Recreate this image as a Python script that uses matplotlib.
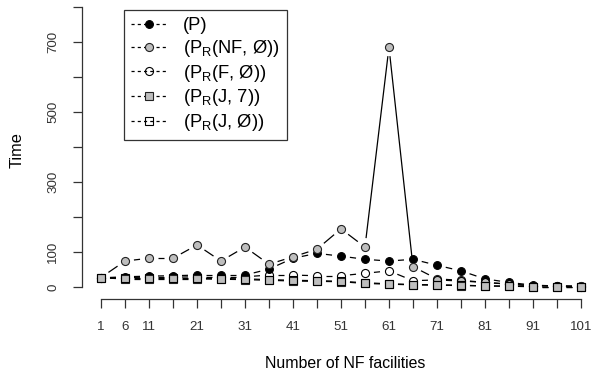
import numpy as np
import matplotlib
matplotlib.use("Agg")
import matplotlib.pyplot as plt
from matplotlib.collections import LineCollection
from matplotlib.lines import Line2D

plt.rcParams['font.family'] = ['Liberation Sans', 'DejaVu Sans']
plt.rcParams['mathtext.fontset'] = 'custom'
plt.rcParams['mathtext.rm'] = 'Liberation Sans'

### data ###
n_facilities = [1, 6, 11, 16, 21, 26, 31, 36, 41, 46, 51, 56, 61, 66, 71, 76, 81, 86, 91, 96, 101]
time_P = [27, 30, 32, 33, 35, 35, 35, 52, 83, 97, 89, 80, 75, 80, 63, 47, 24, 14, 6, 4, 3]
time_NF = [28, 75, 83, 83, 121, 75, 115, 66, 87, 109, 167, 115, 686, 59, 24, 20, 14, 9, 5, 4, 3]
time_F = [27, 28, 29, 29, 30, 30, 30, 35, 35, 33, 33, 40, 47, 19, 21, 18, 14, 9, 4, 3, 2]
time_J7 = [27, 24, 24, 24, 24, 23, 22, 20, 18, 17, 16, 11, 9, 7, 6, 5, 4, 3, 2, 2, 2]
time_J0 = [27, 26, 26, 26, 26, 25, 24, 22, 20, 19, 17, 13, 10, 8, 7, 6, 4, 3, 2, 2, 2]

labels = [r'(P)', r'(P$_\mathrm{R}$(NF, Ø))', r'(P$_\mathrm{R}$(F, Ø))',
          r'(P$_\mathrm{R}$(J, 7))', r'(P$_\mathrm{R}$(J, Ø))']

xticks = list(range(1, 102, 5))
xtick_shown = [1, 6, 11, 21, 31, 41, 51, 61, 71, 81, 91, 101]
yticks = list(range(0, 801, 100))
ytick_shown = [0, 100, 300, 500, 700]

W, H = 592, 370
dpi = 100
fig = plt.figure(figsize=(W / dpi, H / dpi), dpi=dpi)
ax = fig.add_axes([81.5 / W, 1 - 298.5 / H, (W - 81.5) / W, 298.5 / H])
ax.set_xlim(-3.06, 103.3)
ax.set_ylim(-32, 820.9)

gray = '#bebebe'
styles = [
    dict(marker='o', mfc='black', mec='black', ms=5.6),
    dict(marker='o', mfc=gray, mec='#222222', ms=5.8),
    dict(marker='o', mfc='none', mec='black', ms=5.8),
    dict(marker='s', mfc=gray, mec='#222222', ms=5.2),
    dict(marker='s', mfc='none', mec='black', ms=5.2),
]
series = [time_P, time_NF, time_F, time_J7, time_J0]


# R type="b": lines stop short of the points
def gapped(xv, yv, gap=9):
    pts = ax.transData.transform(np.column_stack([xv, yv]))
    inv = ax.transData.inverted()
    segs = []
    for p0, p1 in zip(pts[:-1], pts[1:]):
        d = p1 - p0
        L = np.hypot(*d)
        if L > 2 * gap:
            u = d / L
            segs.append(inv.transform(np.array([p0 + u * gap, p1 - u * gap])))
    return segs


for yv, st in zip(series, styles):
    ax.add_collection(LineCollection(gapped(n_facilities, yv), colors='black', linewidths=0.9))
    ax.plot(n_facilities, yv, ls='none', mew=0.8, **st)

for s in ['top', 'right']:
    ax.spines[s].set_visible(False)
ax.spines['left'].set_bounds(0, 800)
ax.spines['bottom'].set_bounds(1, 101)
for s in ['left', 'bottom']:
    ax.spines[s].set_color('#333333')
    ax.spines[s].set_linewidth(0.9)

ax.set_xticks(xticks)
ax.set_xticklabels([str(t) if t in xtick_shown else '' for t in xticks])
ax.set_yticks(yticks)
ax.set_yticklabels([str(t) if t in ytick_shown else '' for t in yticks],
                   rotation=90, va='center')
ax.tick_params(axis='x', length=6.5, width=0.9, color='#333333', pad=9.5, labelsize=9.6, labelcolor='#333333')
ax.tick_params(axis='y', length=6.5, width=0.9, color='#333333', pad=9.5, labelsize=9.6, labelcolor='#333333')

fig.text(345 / W, 1 - 364 / H, 'Number of NF facilities', ha='center', va='center', fontsize=11.4)
fig.text(17.5 / W, 1 - 150 / H, 'Time', ha='center', va='center', rotation=90, fontsize=11.8)

handles = [Line2D([], [], color='black', lw=0.9, ls=(0, (2.5, 2.5)), mew=0.8, **st) for st in styles]
leg = fig.legend(handles, labels, loc='upper left', bbox_to_anchor=(124 / W, 1 - 10 / H),
                 bbox_transform=fig.transFigure, borderaxespad=0, fontsize=13.2,
                 fancybox=False, framealpha=1, edgecolor='#333333', handlelength=1.9,
                 handletextpad=0.9, labelspacing=0.2, borderpad=0.4, numpoints=1)
leg.get_frame().set_linewidth(0.9)

fig.savefig('out.png', dpi=dpi)
